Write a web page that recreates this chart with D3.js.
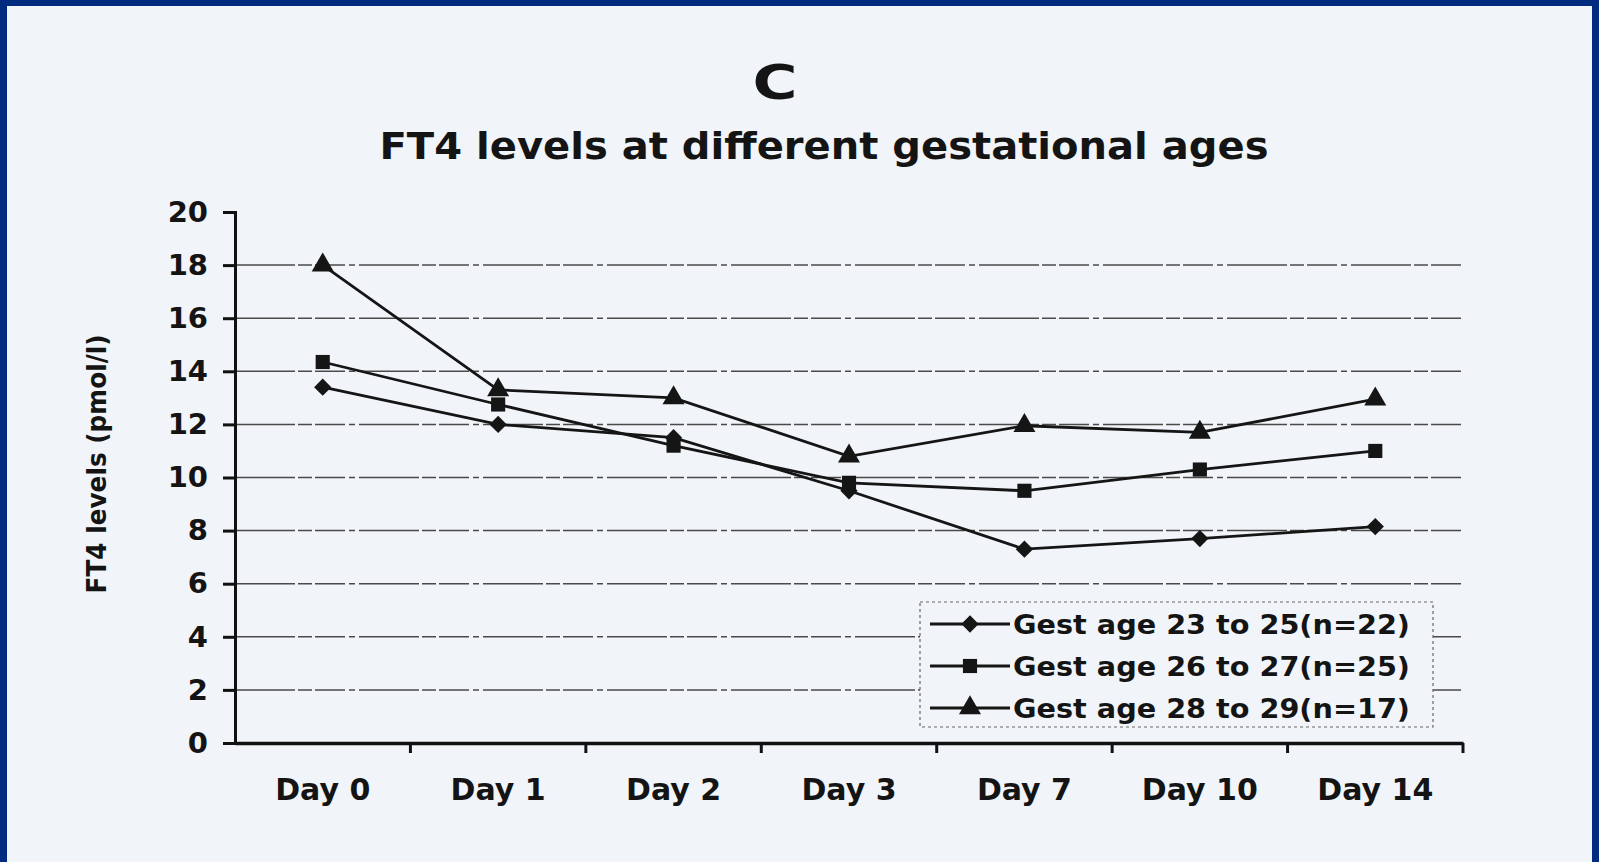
<!DOCTYPE html>
<html>
<head>
<meta charset="utf-8">
<script src="https://cdn.jsdelivr.net/npm/d3@7"></script>
<style>
  body { margin: 0; background: #002b7f; }
  svg { display: block; }
  text { font-family: "DejaVu Sans", "Liberation Sans", Arial, sans-serif; font-weight: bold; fill: #141414; }
</style>
</head>
<body>
<svg id="chart" width="1599" height="862"></svg>
<script>
var days = ["Day 0", "Day 1", "Day 2", "Day 3", "Day 7", "Day 10", "Day 14"];
var yTicks = [0, 2, 4, 6, 8, 10, 12, 14, 16, 18, 20];
var gridValues = [2, 4, 6, 8, 10, 12, 14, 16, 18];

var gest23to25 = [13.4, 12.0, 11.5, 9.5, 7.3, 7.7, 8.15];
var gest26to27 = [14.35, 12.75, 11.2, 9.8, 9.5, 10.3, 11.0];
var gest28to29 = [18.0, 13.3, 13.0, 10.8, 11.95, 11.7, 12.95];

var seriesNames = ["Gest age 23 to 25(n=22)", "Gest age 26 to 27(n=25)", "Gest age 28 to 29(n=17)"];
var seriesShapes = ["diamond", "square", "triangle"];

var svg = d3.select("#chart");

// paper
svg.append("rect")
    .attr("x", 7).attr("y", 6)
    .attr("width", 1585).attr("height", 856)
    .attr("fill", "#f1f4f8");

var margin = {top: 212, left: 235, right: 136, bottom: 119},
    width = 1599 - margin.left - margin.right,
    height = 862 - margin.top - margin.bottom;

var x = d3.scaleBand().domain(days).range([0, width]);
var y = d3.scaleLinear().domain([0, 20]).range([height, 0]);

var g = svg.append("g")
    .attr("transform", "translate(" + margin.left + "," + margin.top + ")");

// titles
svg.append("text")
    .attr("x", 775).attr("y", 99)
    .style("text-anchor", "middle")
    .style("font-size", "48px")
    .attr("textLength", 45)
    .attr("lengthAdjust", "spacingAndGlyphs")
    .text("C");

svg.append("text")
    .attr("x", 824).attr("y", 159)
    .style("text-anchor", "middle")
    .style("font-size", "38px")
    .attr("textLength", 889)
    .attr("lengthAdjust", "spacingAndGlyphs")
    .text("FT4 levels at different gestational ages");

// gridlines
g.selectAll(".grid")
    .data(gridValues)
  .enter().append("line")
    .attr("class", "grid")
    .attr("x1", 0).attr("x2", width)
    .attr("y1", function(d) { return y(d); })
    .attr("y2", function(d) { return y(d); })
    .attr("stroke", "#4a4a4a")
    .attr("stroke-width", 1.5)
    .attr("stroke-dasharray", "60,3,14,3,30,4,6,4");

// y axis
var yAxis = d3.axisLeft(y).tickValues(yTicks).tickSize(12).tickPadding(15);
var yg = g.append("g").call(yAxis);
yg.select(".domain").attr("stroke", "#111").attr("stroke-width", 3);
yg.selectAll(".tick line").attr("stroke", "#111").attr("stroke-width", 3);
yg.selectAll(".tick text").style("font-size", "29px").attr("fill", "#141414");

// x axis
var xAxis = d3.axisBottom(x).tickSize(0).tickPadding(36);
var xg = g.append("g")
    .attr("transform", "translate(0," + height + ")")
    .call(xAxis);
xg.select(".domain").attr("stroke", "#111").attr("stroke-width", 3.5);
xg.selectAll(".tick text").style("font-size", "30px").attr("fill", "#141414");
xg.selectAll(".xtick")
    .data(days.slice(1).concat(["end"]))
  .enter().append("line")
    .attr("class", "xtick")
    .attr("x1", function(d, i) { return x.step() * (i + 1); })
    .attr("x2", function(d, i) { return x.step() * (i + 1); })
    .attr("y1", 0).attr("y2", 10)
    .attr("stroke", "#111").attr("stroke-width", 3);

// y axis title
svg.append("text")
    .attr("transform", "translate(106,464) rotate(-90)")
    .style("text-anchor", "middle")
    .style("font-size", "26px")
    .attr("textLength", 259)
    .attr("lengthAdjust", "spacingAndGlyphs")
    .text("FT4 levels (pmol/l)");

// series
var allSeries = [gest23to25, gest26to27, gest28to29];

var line = d3.line()
    .x(function(d, i) { return x(days[i]) + x.bandwidth() / 2; })
    .y(function(d) { return y(d); });

var symbolFor = {
  diamond: d3.symbol().type(d3.symbolDiamond2).size(190),
  square: d3.symbol().type(d3.symbolSquare).size(200),
  triangle: d3.symbol().type(d3.symbolTriangle).size(210)
};

allSeries.forEach(function(vals, s) {
  g.append("path")
      .datum(vals)
      .attr("fill", "none")
      .attr("stroke", "#151515")
      .attr("stroke-width", 2.8)
      .attr("d", line);

  g.selectAll(".pt" + s)
      .data(vals)
    .enter().append("path")
      .attr("class", "pt" + s)
      .attr("transform", function(d, i) {
        return "translate(" + (x(days[i]) + x.bandwidth() / 2) + "," + y(d) + ")";
      })
      .attr("d", symbolFor[seriesShapes[s]]())
      .attr("fill", "#151515");
});

// legend
var legend = svg.append("g").attr("transform", "translate(920,602)");
legend.append("rect")
    .attr("width", 513).attr("height", 125)
    .attr("fill", "#f1f4f8")
    .attr("stroke", "#666")
    .attr("stroke-width", 1.2)
    .attr("stroke-dasharray", "3,3");

var items = legend.selectAll(".legend")
    .data(seriesNames)
  .enter().append("g")
    .attr("class", "legend")
    .attr("transform", function(d, i) { return "translate(0," + (22 + i * 42) + ")"; });

items.append("line")
    .attr("x1", 10).attr("x2", 90)
    .attr("stroke", "#151515").attr("stroke-width", 2.8);

items.append("path")
    .attr("transform", "translate(50,0)")
    .attr("d", function(d, i) { return symbolFor[seriesShapes[i]](); })
    .attr("fill", "#151515");

items.append("text")
    .attr("x", 93)
    .attr("dy", "0.36em")
    .style("font-size", "27px")
    .attr("textLength", 397)
    .attr("lengthAdjust", "spacingAndGlyphs")
    .text(function(d) { return d; });
</script>
</body>
</html>
